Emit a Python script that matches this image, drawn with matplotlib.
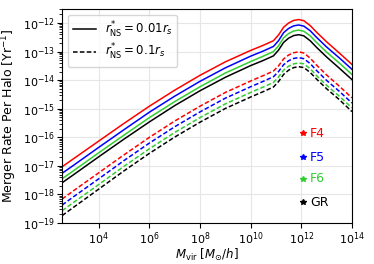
import numpy as np
import matplotlib
matplotlib.use('Agg')
import matplotlib.pyplot as plt
from matplotlib.lines import Line2D

# halo mass grid (log10 M_vir [M_sun/h])
log_mass = [2.55, 3.0, 4.0, 5.0, 6.0, 7.0, 8.0, 9.0, 10.0, 10.5, 10.9, 11.1,
            11.3, 11.5, 11.7, 11.9, 12.1, 12.35, 12.6, 13.0, 13.5, 14.0]

# log10 merger rate per halo, r*_NS = 0.01 r_s
f4_solid = [-17.03, -16.75, -16.13, -15.51, -14.91, -14.35, -13.83, -13.36, -12.96, -12.78, -12.62,
            -12.42, -12.15, -12.00, -11.91, -11.88, -11.92, -12.09, -12.32, -12.66, -13.05, -13.45]
f5_solid = [-17.26, -16.98, -16.35, -15.73, -15.12, -14.56, -14.04, -13.57, -13.16, -12.98, -12.82,
            -12.62, -12.34, -12.19, -12.10, -12.07, -12.11, -12.27, -12.50, -12.84, -13.22, -13.62]
f6_solid = [-17.45, -17.17, -16.54, -15.92, -15.31, -14.75, -14.23, -13.75, -13.35, -13.16, -13.00,
            -12.80, -12.52, -12.37, -12.28, -12.25, -12.29, -12.45, -12.68, -13.02, -13.40, -13.80]
gr_solid = [-17.59, -17.31, -16.68, -16.06, -15.46, -14.89, -14.37, -13.90, -13.49, -13.31, -13.15,
            -12.95, -12.68, -12.53, -12.44, -12.41, -12.45, -12.62, -12.85, -13.19, -13.58, -13.98]

# log10 merger rate per halo, r*_NS = 0.1 r_s
f4_dashed = [-18.16, -17.87, -17.24, -16.61, -16.00, -15.43, -14.91, -14.43, -14.03, -13.84, -13.68,
             -13.50, -13.26, -13.12, -13.04, -13.01, -13.05, -13.23, -13.47, -13.82, -14.21, -14.62]
f5_dashed = [-18.37, -18.08, -17.45, -16.81, -16.20, -15.63, -15.11, -14.63, -14.23, -14.04, -13.88,
             -13.70, -13.46, -13.32, -13.24, -13.21, -13.25, -13.42, -13.66, -14.01, -14.39, -14.80]
f6_dashed = [-18.57, -18.28, -17.65, -17.01, -16.40, -15.83, -15.31, -14.83, -14.43, -14.24, -14.08,
             -13.89, -13.65, -13.51, -13.43, -13.40, -13.43, -13.60, -13.84, -14.18, -14.56, -14.97]
gr_dashed = [-18.74, -18.45, -17.81, -17.17, -16.56, -15.99, -15.47, -14.99, -14.59, -14.40, -14.24,
             -14.05, -13.80, -13.65, -13.56, -13.53, -13.56, -13.73, -13.96, -14.30, -14.68, -15.10]

models = ['F4', 'F5', 'F6', 'GR']
colors = ['red', 'blue', 'limegreen', 'black']
solid = [f4_solid, f5_solid, f6_solid, gr_solid]
dashed = [f4_dashed, f5_dashed, f6_dashed, gr_dashed]

plt.rcParams['font.size'] = 8.5
fig = plt.figure(figsize=(3.74, 2.64), dpi=100)
ax = fig.add_axes([0.166, 0.155, 0.775, 0.811])

mass = 10 ** np.array(log_mass)
for c, s, d in zip(colors, solid, dashed):
    ax.plot(mass, 10 ** np.array(s), color=c, lw=1.1, ls='-')
    ax.plot(mass, 10 ** np.array(d), color=c, lw=1.1, ls='--', dashes=(3, 1.5))

ax.set_xscale('log')
ax.set_yscale('log')
ax.set_xlim(10 ** 2.55, 1e14)
ax.set_ylim(1e-19, 10 ** -11.51)
ax.grid(True, color='#e6e6e6', lw=0.8)
ax.set_axisbelow(True)
ax.tick_params(axis='both', which='major', labelsize=8, pad=1.5)

ax.set_xlabel(r'$M_{\rm vir}$ [$M_{\odot}/h$]', labelpad=0)
ax.set_ylabel(r'Merger Rate Per Halo [Yr$^{-1}$]', fontsize=9, labelpad=3)

handles = [Line2D([], [], color='black', lw=1.1, ls='-'),
           Line2D([], [], color='black', lw=1.1, ls='--', dashes=(3, 1.5))]
ax.legend(handles, [r'$r^{*}_{\rm NS}=0.01r_s$', r'$r^{*}_{\rm NS}=0.1r_s$'],
          loc='upper left', fontsize=8.5, handlelength=2.0, handletextpad=0.7,
          borderpad=0.4, labelspacing=0.2, framealpha=0.8)

# model labels
ypos = [0.42, 0.308, 0.206, 0.098]
for m, c, y in zip(models, colors, ypos):
    ax.plot(0.831, y, marker='*', color=c, ms=4, transform=ax.transAxes, clip_on=False)
    ax.text(0.855, y, m, color=c, fontsize=9, va='center', transform=ax.transAxes)

fig.savefig('out.png', dpi=100)
